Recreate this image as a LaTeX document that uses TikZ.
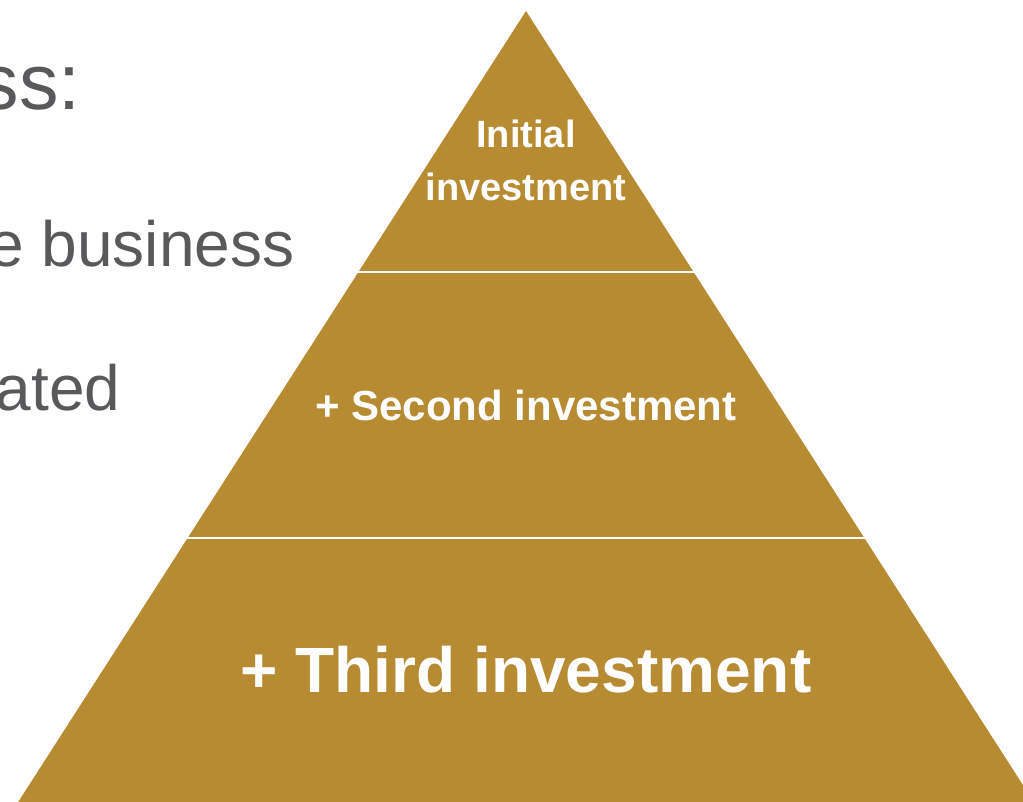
\documentclass[tikz,border=0pt]{standalone}
\usepackage{fontspec}
\setmainfont{Liberation Sans}
\definecolor{oro}{RGB}{182,139,49}
\definecolor{gris}{RGB}{88,89,91}
\begin{document}
\begin{tikzpicture}[x=1pt,y=-1pt,
    nivel/.style={anchor=base, text=white, font=\bfseries},
    lado/.style={anchor=base east, text=gris}]
  \def\ax{526}
  \def\ay{11}
  \def\pend{0.642}
  \def\fondo{820}

  \useasboundingbox (0,0) rectangle (1023,802);
  \clip (0,0) rectangle (1023,802);

  % Texto de la diapositiva (cortado en el borde)
  \node[lado, font=\fontsize{79}{79}\selectfont] (titulo) at (84,110) {ss:};
  \node[lado, font=\fontsize{64}{64}\selectfont] (linea1) at (298,267) {e business};
  \node[lado, font=\fontsize{64}{64}\selectfont] (linea2) at (124,410) {ated};

  % Piramide
  \fill[oro] (\ax,\ay) -- (\ax+\pend*\fondo-\pend*\ay,\fondo) -- (\ax-\pend*\fondo+\pend*\ay,\fondo) -- cycle;

  % Separaciones entre niveles
  \foreach \y in {272,538} {
    \draw[white, line width=2.5pt] (\ax-\pend*\y+\pend*\ay-3,\y) -- (\ax+\pend*\y-\pend*\ay+3,\y);
  }

  % Niveles
  \node[nivel, font=\bfseries\fontsize{38}{38}\selectfont] (inicial) at (\ax,148) {Initial};
  \node[nivel, font=\bfseries\fontsize{38}{38}\selectfont] (inversion) at (\ax,201) {investment};
  \node[nivel, font=\bfseries\fontsize{42}{42}\selectfont] (segunda) at (\ax,420) {+ Second investment};
  \node[nivel, font=\bfseries\fontsize{64}{64}\selectfont] (tercera) at (\ax,692) {+ Third investment};
\end{tikzpicture}
\end{document}
